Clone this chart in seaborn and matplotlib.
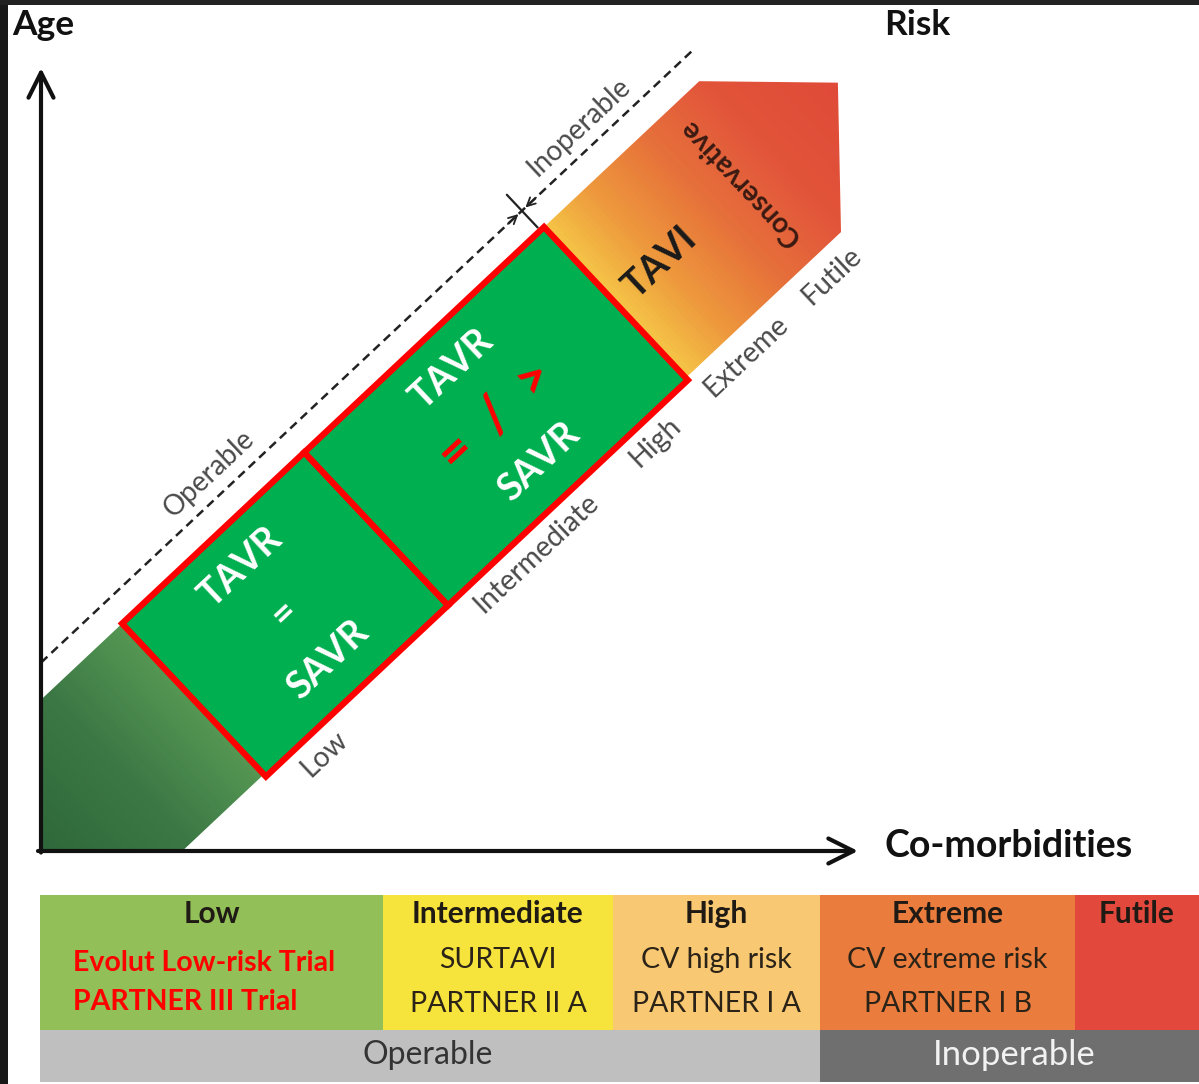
import numpy as np
import matplotlib
matplotlib.use("Agg")
import matplotlib.pyplot as plt
from matplotlib.patches import Polygon, Rectangle
from matplotlib.colors import LinearSegmentedColormap
import seaborn as sns

# ---------------- data ----------------
risk_levels = ["Low", "Intermediate", "High", "Extreme", "Futile"]
trial_line1 = ["Evolut Low-risk Trial", "SURTAVI", "CV high risk", "CV extreme risk", ""]
trial_line2 = ["PARTNER III Trial", "PARTNER II A", "PARTNER I A", "PARTNER I B", ""]
risk_colors = ["#92bf57", "#f6e33c", "#f8c872", "#ea7c3d", "#e2483b"]
operability = ["Operable", "Inoperable"]
operability_colors = ["#bfbfbf", "#6f6f6f"]
operability_text_colors = ["#333333", "#f2f2f2"]
box_top = ["TAVR", "TAVR"]
box_mid = ["=", "=  /  >"]
box_bottom = ["SAVR", "SAVR"]
box_mid_colors = ["white", "#ff0000"]
band_colors = ["#2f683a", "#3c7845", "#589a55", "#3fae50", "#f6cb48",
               "#ee9a3d", "#e6703a", "#e2543a", "#df4a38"]
axis_labels = ["Age", "Risk", "Co-morbidities"]

# ---------------- layout ----------------
sns.set_theme(style="white")
plt.rcParams["font.family"] = ["Lato", "DejaVu Sans"]

W, H = 1199, 1084
fig = plt.figure(figsize=(W / 100, H / 100), dpi=100)
ax = fig.add_axes([0, 0, 1, 1])
ax.set_xlim(0, W)
ax.set_ylim(H, 0)
ax.axis("off")
fig.patch.set_facecolor("white")

# band coordinate system (s along band, t across)
U = np.array([0.729, -0.685]); U = U / np.linalg.norm(U)
N = np.array([abs(U[1]), abs(U[0])])
ANG = np.degrees(np.arctan2(-U[1], U[0]))


def B(s, t):
    return s * U + t * N


X0, Y0 = 41, 851
T_UP, T_LO = 538, 745
S_END, S_TIP, T_TIP = 454, 554, 634

s_a = (X0 - N[0] * T_UP) / U[0]
s_b = (Y0 - N[1] * T_LO) / U[1]
band_poly = np.array([B(s_a, T_UP), B(S_END, T_UP), B(S_TIP, T_TIP),
                      B(S_END, T_LO), B(s_b, T_LO), (X0, Y0)])

# gradient along the band
stops_s = [-555, -440, -330, -90, 235, 300, 380, 460, 560]
pos = [(v - stops_s[0]) / (stops_s[-1] - stops_s[0]) for v in stops_s]
cmap = LinearSegmentedColormap.from_list("band", list(zip(pos, band_colors)))
xs = np.arange(X0, 846)
ys = np.arange(70, Y0 + 1)
XX, YY = np.meshgrid(xs, ys)
SS = U[0] * XX + U[1] * YY
img = cmap((SS - stops_s[0]) / (stops_s[-1] - stops_s[0]))
im = ax.imshow(img, extent=[X0, 846, Y0 + 1, 70], origin="upper",
               interpolation="bilinear", zorder=1)
patch = Polygon(band_poly, closed=True, facecolor="none", edgecolor="none")
ax.add_patch(patch)
im.set_clip_path(patch)
ax.set_xlim(0, W)
ax.set_ylim(H, 0)

# green boxes
box_s = [(-338, -88), (-88, 241)]
box_mid_size = [27, 38]
BT0, BT1 = 538, 748
for i, (s0, s1) in enumerate(box_s):
    pts = [B(s0, BT0), B(s1, BT0), B(s1, BT1), B(s0, BT1)]
    ax.add_patch(Polygon(pts, closed=True, facecolor="#00b050", edgecolor="#ff0000",
                         lw=4.5, joinstyle="miter", zorder=3))
    sc = (s0 + s1) / 2
    for txt, tt, col, fs in [(box_top[i], 578, "white", 27),
                             (box_mid[i], 642, box_mid_colors[i], box_mid_size[i]),
                             (box_bottom[i], 706, "white", 27)]:
        x, y = B(sc, tt)
        ax.text(x, y, txt, rotation=ANG, rotation_mode="anchor", ha="center", va="center",
                color=col, fontsize=fs, fontweight="bold", zorder=4)

# labels below the band
label_s = [-280, 12, 175, 300, 417]
for lab, s in zip(risk_levels, label_s):
    x, y = B(s, 771)
    ax.text(x, y, lab, rotation=ANG, rotation_mode="anchor", ha="center", va="center",
            color="#4a4a4a", fontsize=20.5, zorder=4)

# dashed operable line
s_d0 = (X0 - N[0] * 511) / U[0]
p0, p1 = B(s_d0, 511), B(471, 511)
ax.plot([p0[0], p1[0]], [p0[1], p1[1]], color="#222222", lw=1.8,
        linestyle=(0, (3.5, 2.2)), zorder=2)
S_DIV = 236
q0, q1 = B(S_DIV, 489), B(S_DIV, 534)
ax.plot([q0[0], q1[0]], [q0[1], q1[1]], color="#222222", lw=1.6, zorder=2)
for sa, sb in [(S_DIV - 22, S_DIV - 2), (S_DIV + 22, S_DIV + 2)]:
    a, b = B(sa, 511), B(sb, 511)
    ax.annotate("", xy=b, xytext=a,
                arrowprops=dict(arrowstyle="->,head_length=0.5,head_width=0.25",
                                color="#222222", lw=1.3, mutation_scale=12), zorder=2)
for lab, s in zip(operability, [-172, 335]):
    x, y = B(s, 489)
    ax.text(x, y, lab, rotation=ANG, rotation_mode="anchor", ha="center", va="center",
            color="#4a4a4a", fontsize=20, zorder=4)

# TAVI and Conservative
x, y = B(301, 643)
ax.text(x, y, "TAVI", rotation=ANG, rotation_mode="anchor", ha="center", va="center",
        color="#1a1a1a", fontsize=27, fontweight="bold", zorder=4)
x, y = B(415, 640)
ax.text(x, y, "Conservative", rotation=ANG + 90, rotation_mode="anchor", ha="center",
        va="center", color="#3a1a12", fontsize=20, fontweight="bold", zorder=4)

# axes arrows
arrow_kw = dict(arrowstyle="->,head_length=0.9,head_width=0.45", color="#111111",
                lw=3, mutation_scale=20, shrinkA=0, shrinkB=0)
ax.annotate("", xy=(X0, 68), xytext=(X0, Y0 + 1.5), arrowprops=arrow_kw, zorder=5)
ax.annotate("", xy=(858, Y0), xytext=(X0 - 3, Y0), arrowprops=arrow_kw, zorder=5)

ax.text(12, 25, axis_labels[0], ha="left", va="center", fontsize=25.5,
        fontweight="bold", color="#111111")
ax.text(884, 25, axis_labels[1], ha="left", va="center", fontsize=25.5,
        fontweight="bold", color="#111111")
ax.text(884, 846, axis_labels[2], ha="left", va="center", fontsize=27,
        fontweight="bold", color="#111111")

# bottom table
col_edges = [40, 383, 613, 820, 1075, 1199]
R0, R1, R2 = 895, 1030, 1082
for i, lab in enumerate(risk_levels):
    x0, x1 = col_edges[i], col_edges[i + 1]
    ax.add_patch(Rectangle((x0, R0), x1 - x0, R1 - R0, facecolor=risk_colors[i],
                           edgecolor="none", zorder=2))
    xc = (x0 + x1) / 2
    ax.text(xc, 914, lab, ha="center", va="center", fontsize=21.5, fontweight="bold",
            color="#1f1a14", zorder=3)
    if i == 0:
        ax.text(73, 963, trial_line1[i], ha="left", va="center", fontsize=20.5,
                fontweight="bold", color="#ff0000", zorder=3)
        ax.text(73, 1002, trial_line2[i], ha="left", va="center", fontsize=20.5,
                fontweight="bold", color="#ff0000", zorder=3)
    else:
        ax.text(xc, 960, trial_line1[i], ha="center", va="center", fontsize=20.5,
                color="#2b2318", zorder=3)
        ax.text(xc, 1004, trial_line2[i], ha="center", va="center", fontsize=20.5,
                color="#2b2318", zorder=3)

op_edges = [40, 820, 1199]
op_centers = [428, 1014]
op_sizes = [23, 25]
for i, lab in enumerate(operability):
    ax.add_patch(Rectangle((op_edges[i], R1), op_edges[i + 1] - op_edges[i], R2 - R1,
                           facecolor=operability_colors[i], edgecolor="none", zorder=2))
    ax.text(op_centers[i], 1055, lab, ha="center", va="center", fontsize=op_sizes[i],
            color=operability_text_colors[i], zorder=3)

# dark frame strips
ax.add_patch(Rectangle((0, 0), 8, H, facecolor="#181818", edgecolor="none", zorder=6))
ax.add_patch(Rectangle((0, 0), W, 5, facecolor="#222222", edgecolor="none", zorder=6))

fig.savefig("out.png", dpi=100, facecolor="white")
